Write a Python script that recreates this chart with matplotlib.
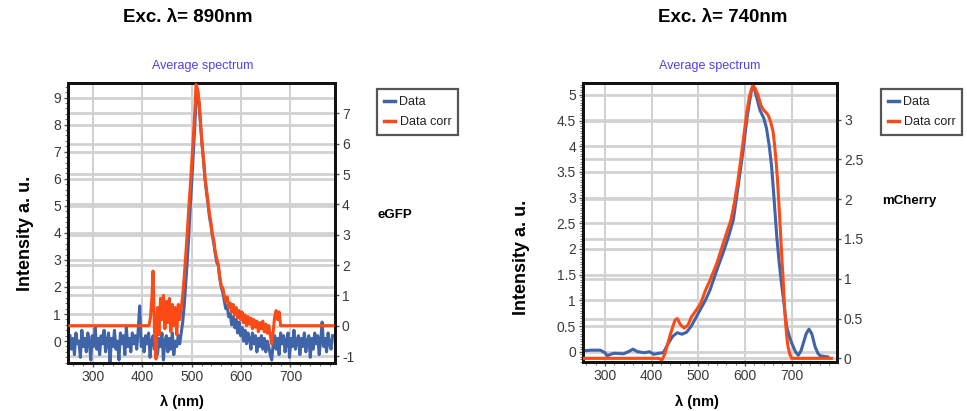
import numpy as np
import matplotlib
matplotlib.use("Agg")
import matplotlib.pyplot as plt
from matplotlib.ticker import MultipleLocator, AutoMinorLocator
from matplotlib.transforms import blended_transform_factory
from matplotlib.lines import Line2D

plt.rcParams['font.family'] = ['Liberation Sans', 'DejaVu Sans']

# ---------------- eGFP (Exc 890 nm) ----------------
egfp_wl = list(range(254, 788, 3))
egfp_data = [
    # 254 - 476 baseline
    0.2, -0.3, 0.1, -0.5, 0.3, -0.1, 0.0, -0.6, 0.4, -0.2,
    0.1, -0.4, 0.3, 0.0, -0.7, 0.2, -0.2, 0.5, -0.3, 0.1,
    -0.5, 0.2, -0.1, 0.4, -0.4, 0.0, 0.3, -0.8, 0.1, -0.2,
    0.4, -0.3, 0.0, -0.7, 0.3, -0.1, 0.2, -0.5, 0.5, -0.2,
    0.1, -0.4, 0.3, -0.1, 0.2, -0.3, 0.4, 1.3, -0.2, 0.1,
    -0.4, 0.2, -0.1, 0.3, -0.6, 0.0, 0.2, -0.3, 0.4, -0.5,
    0.1, -0.2, 0.3, -0.7, 0.0, 0.2, -0.4, 0.1, -0.3, 0.3,
    -0.5, 0.0, -0.2, 0.2, -0.1,
    # 479 - 665 peak and tail
    0.3, 0.7, 1.3, 2.1, 2.9, 3.8, 4.9, 5.8, 6.8, 7.8,
    8.9, 9.3, 8.8, 8.0, 7.3, 6.7, 6.0, 5.5, 5.1, 4.6,
    4.3, 3.9, 3.6, 3.2, 2.9, 2.8, 2.3, 2.0, 1.8, 1.5,
    1.2, 1.3, 0.9, 1.0, 0.6, 0.9, 0.5, 0.8, 0.3, 0.7,
    0.2, 0.5, 0.0, 0.4, -0.1, 0.3, 0.1, -0.3, 0.3, -0.1,
    0.2, -0.4, 0.1, -0.2, 0.2, -0.3, 0.1, -0.4, 0.0, -0.2,
    -0.5, -0.7, -0.1,
    # 668 - 785 baseline
    0.2, -0.3, 0.1, -0.5, 0.3, -0.1, 0.2, -0.4, 0.0, 0.3,
    -0.6, 0.1, -0.2, 0.4, -0.3, 0.0, 0.2, -0.5, 0.1, -0.2,
    0.3, -0.4, 0.0, 0.2, -0.6, 0.1, -0.3, 0.3, -0.1, 0.2,
    -0.5, 0.0, 0.7, -0.2, 0.1, -0.4, 0.3, -0.1, -0.3, 0.2,
]
egfp_corr_wl = [254, 414, 417, 420, 422, 425, 428, 431, 434, 437, 440, 443, 446,
                449, 452, 455, 458, 461, 464, 467, 470, 473, 476, 479, 482, 485,
                488, 491, 494, 497, 500, 503, 506, 509, 512, 515, 518, 521, 524,
                527, 530, 533, 536, 539, 542, 545, 548, 551, 554, 557, 560, 563,
                566, 569, 572, 575, 578, 581, 584, 587, 590, 593, 596, 599, 602,
                605, 608, 611, 614, 617, 620, 623, 626, 629, 632, 635, 638, 641,
                644, 647, 650, 653, 656, 659, 662, 665, 668, 671, 674, 677, 680, 786]
egfp_corr = [0.0, 0.0, 0.3, 1.0, 1.8, -0.2, -1.1, 0.6, -0.3, 0.9, 0.2, 1.0, -0.1,
             0.8, 0.1, 0.9, -0.2, 0.7, 0.0, 0.6, -0.3, 0.7, 0.2, 0.6, 1.0, 1.6,
             2.3, 3.0, 3.8, 4.5, 5.3, 6.1, 6.9, 7.95, 7.8, 7.4, 6.7, 6.0, 5.5,
             4.9, 4.5, 4.1, 3.7, 3.4, 3.0, 2.8, 2.4, 2.2, 2.0, 1.6, 1.3, 1.25,
             1.0, 0.8, 0.95, 0.6, 0.75, 0.45, 0.7, 0.35, 0.6, 0.25, 0.5, 0.2, 0.45,
             0.1, 0.35, 0.0, 0.3, 0.05, 0.25, -0.1, 0.2, -0.05, 0.15, -0.2, 0.1, -0.1,
             0.15, -0.2, 0.05, -0.25, 0.0, -0.3, -0.6, -0.2, 0.3, 0.5, 0.2, 0.45, 0.0, 0.0]

# ---------------- mCherry (Exc 740 nm) ----------------
mch_wl = [255, 270, 290, 300, 305, 312, 320, 340, 350, 360, 370, 385, 395, 405,
          415, 425, 435, 445, 455, 465, 475, 485, 500, 515, 525, 540, 553, 565,
          575, 585, 596, 605, 614, 618, 625, 632, 640, 646, 652, 657, 662, 668,
          673, 678, 684, 689, 695, 700, 708, 714, 720, 725, 731, 737, 743, 750,
          756, 761, 777]
mch_data = [0.02, 0.03, 0.03, -0.02, -0.08, -0.05, -0.03, -0.04, 0.0, 0.05, 0.0,
            -0.02, 0.0, -0.05, -0.03, -0.02, 0.15, 0.3, 0.37, 0.34, 0.38, 0.5,
            0.75, 1.0, 1.2, 1.6, 1.92, 2.25, 2.57, 3.2, 3.93, 4.6, 5.1, 5.18,
            4.95, 4.7, 4.55, 4.35, 4.0, 3.6, 3.0, 2.24, 1.75, 1.34, 0.9, 0.49,
            0.3, 0.17, 0.0, -0.07, 0.02, 0.17, 0.35, 0.44, 0.35, 0.1, -0.03,
            -0.08, -0.1]
mch_corr_wl = [255, 415, 422, 428, 440, 450, 455, 462, 470, 478, 485, 495, 505,
               515, 525, 540, 553, 562, 570, 577, 584, 591, 598, 604, 609, 616,
               621, 627, 634, 640, 645, 650, 655, 660, 663, 667, 670, 674, 678,
               682, 685, 689, 692, 696, 700, 785]
mch_corr = [0.0, 0.0, -0.02, 0.05, 0.3, 0.48, 0.5, 0.42, 0.38, 0.42, 0.52, 0.6,
            0.69, 0.85, 0.98, 1.2, 1.44, 1.6, 1.74, 1.95, 2.2, 2.5, 2.82, 3.1,
            3.28, 3.42, 3.4, 3.32, 3.18, 3.12, 3.09, 3.05, 2.97, 2.85, 2.7, 2.45,
            2.2, 1.8, 1.36, 0.95, 0.6, 0.3, 0.15, 0.05, 0.0, 0.0]

titles = ["Exc. λ= 890nm", "Exc. λ= 740nm"]
labels = ["eGFP", "mCherry"]
series_names = ["Data", "Data corr"]

BLUE = "#4064A8"
ORANGE = "#FB4A16"
GRID = "#d2d2d2"
TICKC = "#3a3a3a"
NARROW = ['Liberation Sans Narrow', 'Liberation Sans', 'DejaVu Sans']

W, H = 967, 411
fig = plt.figure(figsize=(W / 100, H / 100), dpi=100)


def fx(px):
    return px / W


def fy(py):
    return 1 - py / H


panels = [
    dict(rect=(68, 83, 335, 363), wl=egfp_wl, d=egfp_data, cwl=egfp_corr_wl, c=egfp_corr,
         xlim=(250, 790), ylim=(-0.81, 9.54), y2lim=(-1.23, 8.0),
         yticks=np.arange(0, 10, 1), y2ticks=np.arange(-1, 8, 1), ymin=AutoMinorLocator(5),
         title_x=188, avg_x=203, leg=(377, 89), lab=(378, 215), ylab=(25, 233), xlab_x=182),
    dict(rect=(583, 83, 837, 362), wl=mch_wl, d=mch_data, cwl=mch_corr_wl, c=mch_corr,
         xlim=(253, 797), ylim=(-0.2, 5.23), y2lim=(-0.046, 3.46),
         yticks=np.arange(0, 5.01, 0.5), y2ticks=np.arange(0, 3.01, 0.5), ymin=AutoMinorLocator(10),
         title_x=723, avg_x=710, leg=(881, 89), lab=(882, 201), ylab=(522, 257), xlab_x=697),
]

for i, p in enumerate(panels):
    x0, y0, x1, y1 = p['rect']
    ax = fig.add_axes([fx(x0), fy(y1), fx(x1 - x0), (y1 - y0) / H])
    ax2 = ax.twinx()
    ax.set_xlim(*p['xlim'])
    ax.set_ylim(*p['ylim'])
    ax2.set_ylim(*p['y2lim'])
    ax.set_yticks(p['yticks'])
    ax2.set_yticks(p['y2ticks'])
    ax.xaxis.set_major_locator(MultipleLocator(100))
    ax.xaxis.set_minor_locator(AutoMinorLocator(5))
    ax.yaxis.set_minor_locator(p['ymin'])

    # grids (all on the bottom axes, below the data)
    for t in ax.get_xticks():
        if p['xlim'][0] < t < p['xlim'][1]:
            ax.axvline(t, color=GRID, lw=1.5, zorder=0)
    for t in p['yticks']:
        ax.axhline(t, color=GRID, lw=2.0, zorder=0)
    tr = blended_transform_factory(ax.transAxes, ax2.transData)
    for t in p['y2ticks']:
        ax.plot([0, 1], [t, t], transform=tr, color=GRID, lw=2.0, zorder=0)

    ax.plot(p['wl'], p['d'], color=BLUE, lw=2.2, zorder=3)
    ax2.plot(p['cwl'], p['c'], color=ORANGE, lw=2.2, zorder=3)

    for a in (ax, ax2):
        for s in a.spines.values():
            s.set_linewidth(2.0)
            s.set_color('#111111')
    ax.tick_params(axis='both', which='major', length=3, width=1, colors='#555555',
                   labelcolor=TICKC, labelsize=10, pad=2)
    ax.tick_params(axis='both', which='minor', length=2, width=0.8, colors='#777777')
    ax2.tick_params(axis='y', which='major', length=3, width=1, colors='#555555',
                    labelcolor=TICKC, labelsize=10, pad=2)
    for lab in ax.get_xticklabels() + ax.get_yticklabels() + ax2.get_yticklabels():
        lab.set_family(NARROW)
    ax.yaxis.set_major_formatter(plt.FuncFormatter(lambda v, _: f"{v:g}"))
    ax2.yaxis.set_major_formatter(plt.FuncFormatter(lambda v, _: f"{v:g}"))

    # texts
    fig.text(fx(p['title_x']), fy(18), titles[i], ha='center', va='center',
             fontsize=13.5, fontweight='bold')
    fig.text(fx(p['avg_x']), fy(66), "Average spectrum", ha='center', va='center',
             fontsize=9, color='#5040f0', family=NARROW)
    fig.text(fx(p['ylab'][0]), fy(p['ylab'][1]), "Intensity a. u.", ha='center',
             va='center', rotation=90, fontsize=13, fontweight='bold')
    fig.text(fx(p['xlab_x']), fy(402), "λ (nm)", ha='center', va='center',
             fontsize=10.5, fontweight='bold')
    fig.text(fx(p['lab'][0]), fy(p['lab'][1]), labels[i], ha='left', va='center',
             fontsize=9.5, fontweight='bold')

    handles = [Line2D([], [], color=BLUE, lw=2.5), Line2D([], [], color=ORANGE, lw=2.5)]
    leg = ax.legend(handles, series_names, loc='upper left',
                    bbox_to_anchor=(fx(p['leg'][0]), fy(p['leg'][1])),
                    bbox_transform=fig.transFigure, fancybox=False, framealpha=1,
                    edgecolor='#555555', handlelength=0.9, handletextpad=0.35,
                    borderpad=0.55, labelspacing=0.65, borderaxespad=0,
                    prop={'family': NARROW, 'size': 9})
    leg.get_frame().set_linewidth(1.6)
    for t in leg.get_texts():
        t.set_color('#222222')

fig.savefig("out.png", dpi=100)
